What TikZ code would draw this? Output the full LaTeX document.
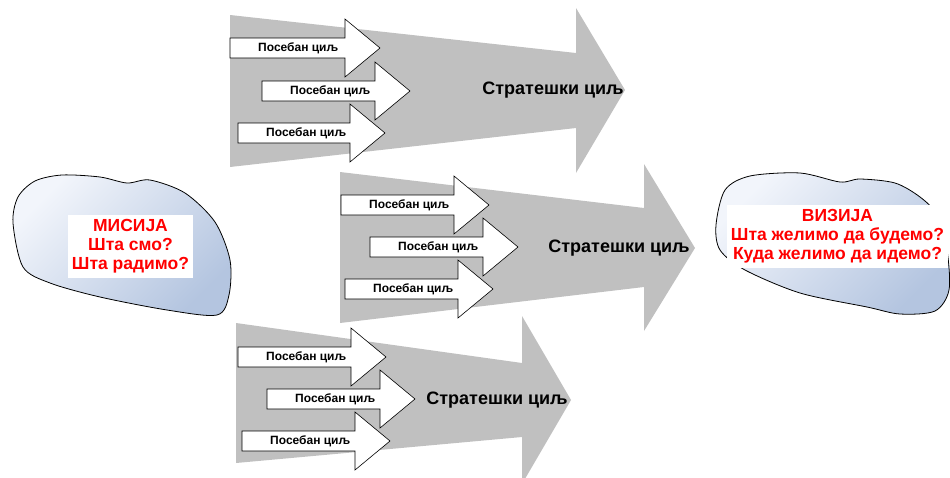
\documentclass[tikz,border=0pt]{standalone}
\usepackage{fontspec}
\setmainfont{Liberation Sans}
\usepackage{xcolor}
\usepackage{tikz}
\usetikzlibrary{positioning, calc}
\definecolor{arrowgray}{HTML}{C0C0C0}
\definecolor{blobtop}{HTML}{F2F5FB}
\definecolor{blobbot}{HTML}{B4C5E0}
\tikzset{
	bigarrow/.style={fill=arrowgray, draw=none},
	goal/.style={draw=black, fill=white, line width=0.6pt, line join=miter},
	goallbl/.style={font=\fontsize{12}{14}\selectfont\bfseries, inner sep=0pt},
	stratlbl/.style={font=\fontsize{18}{20}\selectfont\bfseries, inner sep=0pt},
	blob/.style={draw=black, line width=0.8pt, top color=blobtop, bottom color=blobbot, shading angle=45},
	blobtxt/.style={fill=white, text=red, align=center, inner sep=0pt,
		font=\fontsize{17.5}{18.8}\selectfont\bfseries},
}
% small white arrow: name, left x, centre y, shaft length
\newcommand{\goalarrow}[4]{%
	\draw[goal] (#2,#3-10) -- ++(#4,0) -- ++(0,-19) -- ++(35,29) -- ++(-35,29)
		-- ++(0,-19) -- ++(-#4,0) -- cycle;
	\node[goallbl, anchor=west] (#1) at (#2+28,#3) {Посебан циљ};}

\begin{document}
\begin{tikzpicture}[x=1pt, y=-1pt]
	\clip (0,0) rectangle (950,477);
	
	% mission and vision
	\draw[blob] plot[smooth cycle] coordinates {(13,223) (18,197) (35,181) (62,175) (100,177)
		(127,183) (150,180) (185,193) (215,222) (230,260) (229,295) (217,315) (167,310)
		(100,297) (50,283) (23,267)};
	\node[blobtxt, minimum width=125pt, minimum height=63pt] (misija) at (130.5,246.5)
		{МИСИЈА\\Шта смо?\\Шта радимо?};
	\draw[blob] plot[smooth cycle] coordinates {(716,225) (725,190) (750,176) (800,173)
		(840,182) (860,179) (895,183) (920,197) (937,215) (947,250) (949,290) (935,311)
		(900,314) (867,307) (800,293) (745,270) (720,250)};
	\node[blobtxt, minimum width=221pt, minimum height=63pt] (vizija) at (837.5,236.5)
		{ВИЗИЈА\\Шта желимо да будемо?\\Куда желимо да идемо?};
	
	% strategic goals
	\fill[bigarrow] (230,15) -- (576,53) -- (576,8) -- (625,90) -- (576,173) -- (576,128)
		-- (230,167) -- cycle;
	\node[stratlbl] (strat1) at (553,90) {Стратешки циљ};
	\goalarrow{g11}{230}{48}{115}
	\goalarrow{g12}{262}{91}{113}
	\goalarrow{g13}{238}{133}{112}
	
	\fill[bigarrow] (340,172) -- (644,208) -- (644,164) -- (695,248) -- (644,331) -- (644,287)
		-- (340,323) -- cycle;
	\node[stratlbl] (strat2) at (619,248) {Стратешки циљ};
	\goalarrow{g21}{341}{205}{113}
	\goalarrow{g22}{370}{247}{113}
	\goalarrow{g23}{345}{289}{113}
	
	\fill[bigarrow] (236,323) -- (522,363) -- (522,316) -- (571,400) -- (522,484) -- (522,437)
		-- (236,463) -- cycle;
	\node[stratlbl] (strat3) at (497,400) {Стратешки циљ};
	\goalarrow{g31}{238}{357}{113}
	\goalarrow{g32}{267}{399}{113}
	\goalarrow{g33}{242}{441}{113}
\end{tikzpicture}
\end{document}
